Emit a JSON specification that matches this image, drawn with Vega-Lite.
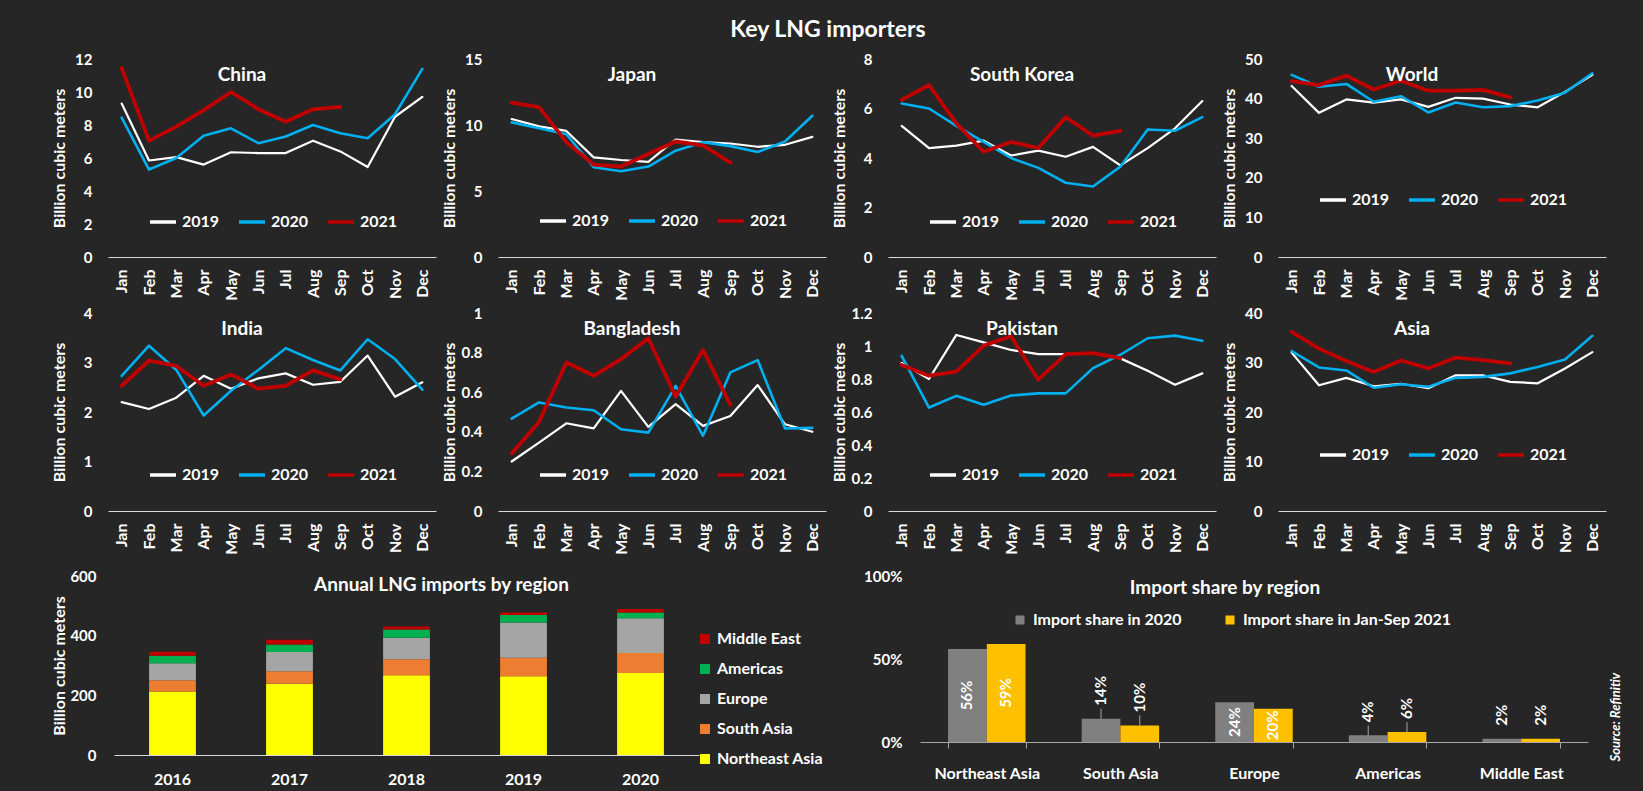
{
"$schema": "https://vega.github.io/schema/vega-lite/v6.json",
"background": "#262626",
"padding": {"left": 51, "top": 19, "right": 21, "bottom": 5},
"datasets": {
"lines": [
{"country":"China","year":"2019","month":"Jan","value":9.3},{"country":"China","year":"2019","month":"Feb","value":5.85},{"country":"China","year":"2019","month":"Mar","value":6.05},{"country":"China","year":"2019","month":"Apr","value":5.6},{"country":"China","year":"2019","month":"May","value":6.35},{"country":"China","year":"2019","month":"Jun","value":6.3},{"country":"China","year":"2019","month":"Jul","value":6.3},{"country":"China","year":"2019","month":"Aug","value":7.05},{"country":"China","year":"2019","month":"Sep","value":6.4},{"country":"China","year":"2019","month":"Oct","value":5.45},{"country":"China","year":"2019","month":"Nov","value":8.5},{"country":"China","year":"2019","month":"Dec","value":9.7},
{"country":"China","year":"2020","month":"Jan","value":8.45},{"country":"China","year":"2020","month":"Feb","value":5.3},{"country":"China","year":"2020","month":"Mar","value":6.0},{"country":"China","year":"2020","month":"Apr","value":7.35},{"country":"China","year":"2020","month":"May","value":7.8},{"country":"China","year":"2020","month":"Jun","value":6.9},{"country":"China","year":"2020","month":"Jul","value":7.3},{"country":"China","year":"2020","month":"Aug","value":8.0},{"country":"China","year":"2020","month":"Sep","value":7.5},{"country":"China","year":"2020","month":"Oct","value":7.2},{"country":"China","year":"2020","month":"Nov","value":8.65},{"country":"China","year":"2020","month":"Dec","value":11.4},
{"country":"China","year":"2021","month":"Jan","value":11.45},{"country":"China","year":"2021","month":"Feb","value":7.05},{"country":"China","year":"2021","month":"Mar","value":7.9},{"country":"China","year":"2021","month":"Apr","value":8.9},{"country":"China","year":"2021","month":"May","value":10.0},{"country":"China","year":"2021","month":"Jun","value":8.95},{"country":"China","year":"2021","month":"Jul","value":8.2},{"country":"China","year":"2021","month":"Aug","value":8.95},{"country":"China","year":"2021","month":"Sep","value":9.1},
{"country":"Japan","year":"2019","month":"Jan","value":10.45},{"country":"Japan","year":"2019","month":"Feb","value":9.9},{"country":"Japan","year":"2019","month":"Mar","value":9.55},{"country":"Japan","year":"2019","month":"Apr","value":7.55},{"country":"Japan","year":"2019","month":"May","value":7.35},{"country":"Japan","year":"2019","month":"Jun","value":7.2},{"country":"Japan","year":"2019","month":"Jul","value":8.9},{"country":"Japan","year":"2019","month":"Aug","value":8.7},{"country":"Japan","year":"2019","month":"Sep","value":8.6},{"country":"Japan","year":"2019","month":"Oct","value":8.35},{"country":"Japan","year":"2019","month":"Nov","value":8.5},{"country":"Japan","year":"2019","month":"Dec","value":9.1},
{"country":"Japan","year":"2020","month":"Jan","value":10.2},{"country":"Japan","year":"2020","month":"Feb","value":9.75},{"country":"Japan","year":"2020","month":"Mar","value":9.3},{"country":"Japan","year":"2020","month":"Apr","value":6.8},{"country":"Japan","year":"2020","month":"May","value":6.5},{"country":"Japan","year":"2020","month":"Jun","value":6.85},{"country":"Japan","year":"2020","month":"Jul","value":8.05},{"country":"Japan","year":"2020","month":"Aug","value":8.7},{"country":"Japan","year":"2020","month":"Sep","value":8.4},{"country":"Japan","year":"2020","month":"Oct","value":7.95},{"country":"Japan","year":"2020","month":"Nov","value":8.75},{"country":"Japan","year":"2020","month":"Dec","value":10.7},
{"country":"Japan","year":"2021","month":"Jan","value":11.7},{"country":"Japan","year":"2021","month":"Feb","value":11.35},{"country":"Japan","year":"2021","month":"Mar","value":8.7},{"country":"Japan","year":"2021","month":"Apr","value":7.0},{"country":"Japan","year":"2021","month":"May","value":6.85},{"country":"Japan","year":"2021","month":"Jun","value":7.8},{"country":"Japan","year":"2021","month":"Jul","value":8.75},{"country":"Japan","year":"2021","month":"Aug","value":8.45},{"country":"Japan","year":"2021","month":"Sep","value":7.15},
{"country":"South Korea","year":"2019","month":"Jan","value":5.3},{"country":"South Korea","year":"2019","month":"Feb","value":4.4},{"country":"South Korea","year":"2019","month":"Mar","value":4.5},{"country":"South Korea","year":"2019","month":"Apr","value":4.7},{"country":"South Korea","year":"2019","month":"May","value":4.1},{"country":"South Korea","year":"2019","month":"Jun","value":4.3},{"country":"South Korea","year":"2019","month":"Jul","value":4.05},{"country":"South Korea","year":"2019","month":"Aug","value":4.45},{"country":"South Korea","year":"2019","month":"Sep","value":3.7},{"country":"South Korea","year":"2019","month":"Oct","value":4.4},{"country":"South Korea","year":"2019","month":"Nov","value":5.2},{"country":"South Korea","year":"2019","month":"Dec","value":6.3},
{"country":"South Korea","year":"2020","month":"Jan","value":6.2},{"country":"South Korea","year":"2020","month":"Feb","value":6.0},{"country":"South Korea","year":"2020","month":"Mar","value":5.3},{"country":"South Korea","year":"2020","month":"Apr","value":4.65},{"country":"South Korea","year":"2020","month":"May","value":4.0},{"country":"South Korea","year":"2020","month":"Jun","value":3.6},{"country":"South Korea","year":"2020","month":"Jul","value":3.0},{"country":"South Korea","year":"2020","month":"Aug","value":2.85},{"country":"South Korea","year":"2020","month":"Sep","value":3.65},{"country":"South Korea","year":"2020","month":"Oct","value":5.15},{"country":"South Korea","year":"2020","month":"Nov","value":5.1},{"country":"South Korea","year":"2020","month":"Dec","value":5.65},
{"country":"South Korea","year":"2021","month":"Jan","value":6.35},{"country":"South Korea","year":"2021","month":"Feb","value":6.95},{"country":"South Korea","year":"2021","month":"Mar","value":5.4},{"country":"South Korea","year":"2021","month":"Apr","value":4.25},{"country":"South Korea","year":"2021","month":"May","value":4.65},{"country":"South Korea","year":"2021","month":"Jun","value":4.4},{"country":"South Korea","year":"2021","month":"Jul","value":5.65},{"country":"South Korea","year":"2021","month":"Aug","value":4.9},{"country":"South Korea","year":"2021","month":"Sep","value":5.1},
{"country":"World","year":"2019","month":"Jan","value":43.2},{"country":"World","year":"2019","month":"Feb","value":36.4},{"country":"World","year":"2019","month":"Mar","value":39.8},{"country":"World","year":"2019","month":"Apr","value":39.0},{"country":"World","year":"2019","month":"May","value":39.8},{"country":"World","year":"2019","month":"Jun","value":37.9},{"country":"World","year":"2019","month":"Jul","value":40.2},{"country":"World","year":"2019","month":"Aug","value":40.0},{"country":"World","year":"2019","month":"Sep","value":38.5},{"country":"World","year":"2019","month":"Oct","value":37.8},{"country":"World","year":"2019","month":"Nov","value":41.7},{"country":"World","year":"2019","month":"Dec","value":46.0},
{"country":"World","year":"2020","month":"Jan","value":46.0},{"country":"World","year":"2020","month":"Feb","value":43.0},{"country":"World","year":"2020","month":"Mar","value":43.7},{"country":"World","year":"2020","month":"Apr","value":39.2},{"country":"World","year":"2020","month":"May","value":40.6},{"country":"World","year":"2020","month":"Jun","value":36.5},{"country":"World","year":"2020","month":"Jul","value":39.0},{"country":"World","year":"2020","month":"Aug","value":37.8},{"country":"World","year":"2020","month":"Sep","value":38.1},{"country":"World","year":"2020","month":"Oct","value":39.5},{"country":"World","year":"2020","month":"Nov","value":41.5},{"country":"World","year":"2020","month":"Dec","value":46.4},
{"country":"World","year":"2021","month":"Jan","value":44.4},{"country":"World","year":"2021","month":"Feb","value":43.4},{"country":"World","year":"2021","month":"Mar","value":45.8},{"country":"World","year":"2021","month":"Apr","value":42.3},{"country":"World","year":"2021","month":"May","value":44.5},{"country":"World","year":"2021","month":"Jun","value":42.0},{"country":"World","year":"2021","month":"Jul","value":42.0},{"country":"World","year":"2021","month":"Aug","value":42.2},{"country":"World","year":"2021","month":"Sep","value":40.3},
{"country":"India","year":"2019","month":"Jan","value":2.2},{"country":"India","year":"2019","month":"Feb","value":2.06},{"country":"India","year":"2019","month":"Mar","value":2.29},{"country":"India","year":"2019","month":"Apr","value":2.73},{"country":"India","year":"2019","month":"May","value":2.47},{"country":"India","year":"2019","month":"Jun","value":2.68},{"country":"India","year":"2019","month":"Jul","value":2.78},{"country":"India","year":"2019","month":"Aug","value":2.55},{"country":"India","year":"2019","month":"Sep","value":2.61},{"country":"India","year":"2019","month":"Oct","value":3.14},{"country":"India","year":"2019","month":"Nov","value":2.31},{"country":"India","year":"2019","month":"Dec","value":2.6},
{"country":"India","year":"2020","month":"Jan","value":2.73},{"country":"India","year":"2020","month":"Feb","value":3.34},{"country":"India","year":"2020","month":"Mar","value":2.85},{"country":"India","year":"2020","month":"Apr","value":1.93},{"country":"India","year":"2020","month":"May","value":2.43},{"country":"India","year":"2020","month":"Jun","value":2.85},{"country":"India","year":"2020","month":"Jul","value":3.29},{"country":"India","year":"2020","month":"Aug","value":3.05},{"country":"India","year":"2020","month":"Sep","value":2.84},{"country":"India","year":"2020","month":"Oct","value":3.47},{"country":"India","year":"2020","month":"Nov","value":3.07},{"country":"India","year":"2020","month":"Dec","value":2.45},
{"country":"India","year":"2021","month":"Jan","value":2.53},{"country":"India","year":"2021","month":"Feb","value":3.04},{"country":"India","year":"2021","month":"Mar","value":2.93},{"country":"India","year":"2021","month":"Apr","value":2.53},{"country":"India","year":"2021","month":"May","value":2.76},{"country":"India","year":"2021","month":"Jun","value":2.47},{"country":"India","year":"2021","month":"Jul","value":2.53},{"country":"India","year":"2021","month":"Aug","value":2.84},{"country":"India","year":"2021","month":"Sep","value":2.66},
{"country":"Bangladesh","year":"2019","month":"Jan","value":0.25},{"country":"Bangladesh","year":"2019","month":"Feb","value":0.345},{"country":"Bangladesh","year":"2019","month":"Mar","value":0.443},{"country":"Bangladesh","year":"2019","month":"Apr","value":0.417},{"country":"Bangladesh","year":"2019","month":"May","value":0.607},{"country":"Bangladesh","year":"2019","month":"Jun","value":0.425},{"country":"Bangladesh","year":"2019","month":"Jul","value":0.54},{"country":"Bangladesh","year":"2019","month":"Aug","value":0.43},{"country":"Bangladesh","year":"2019","month":"Sep","value":0.48},{"country":"Bangladesh","year":"2019","month":"Oct","value":0.636},{"country":"Bangladesh","year":"2019","month":"Nov","value":0.438},{"country":"Bangladesh","year":"2019","month":"Dec","value":0.4},
{"country":"Bangladesh","year":"2020","month":"Jan","value":0.467},{"country":"Bangladesh","year":"2020","month":"Feb","value":0.548},{"country":"Bangladesh","year":"2020","month":"Mar","value":0.523},{"country":"Bangladesh","year":"2020","month":"Apr","value":0.509},{"country":"Bangladesh","year":"2020","month":"May","value":0.413},{"country":"Bangladesh","year":"2020","month":"Jun","value":0.396},{"country":"Bangladesh","year":"2020","month":"Jul","value":0.632},{"country":"Bangladesh","year":"2020","month":"Aug","value":0.38},{"country":"Bangladesh","year":"2020","month":"Sep","value":0.7},{"country":"Bangladesh","year":"2020","month":"Oct","value":0.762},{"country":"Bangladesh","year":"2020","month":"Nov","value":0.417},{"country":"Bangladesh","year":"2020","month":"Dec","value":0.42},
{"country":"Bangladesh","year":"2021","month":"Jan","value":0.29},{"country":"Bangladesh","year":"2021","month":"Feb","value":0.45},{"country":"Bangladesh","year":"2021","month":"Mar","value":0.75},{"country":"Bangladesh","year":"2021","month":"Apr","value":0.683},{"country":"Bangladesh","year":"2021","month":"May","value":0.767},{"country":"Bangladesh","year":"2021","month":"Jun","value":0.872},{"country":"Bangladesh","year":"2021","month":"Jul","value":0.578},{"country":"Bangladesh","year":"2021","month":"Aug","value":0.813},{"country":"Bangladesh","year":"2021","month":"Sep","value":0.536},
{"country":"Pakistan","year":"2019","month":"Jan","value":0.897},{"country":"Pakistan","year":"2019","month":"Feb","value":0.8},{"country":"Pakistan","year":"2019","month":"Mar","value":1.067},{"country":"Pakistan","year":"2019","month":"Apr","value":1.022},{"country":"Pakistan","year":"2019","month":"May","value":0.976},{"country":"Pakistan","year":"2019","month":"Jun","value":0.951},{"country":"Pakistan","year":"2019","month":"Jul","value":0.951},{"country":"Pakistan","year":"2019","month":"Aug","value":0.955},{"country":"Pakistan","year":"2019","month":"Sep","value":0.925},{"country":"Pakistan","year":"2019","month":"Oct","value":0.85},{"country":"Pakistan","year":"2019","month":"Nov","value":0.765},{"country":"Pakistan","year":"2019","month":"Dec","value":0.834},
{"country":"Pakistan","year":"2020","month":"Jan","value":0.94},{"country":"Pakistan","year":"2020","month":"Feb","value":0.627},{"country":"Pakistan","year":"2020","month":"Mar","value":0.698},{"country":"Pakistan","year":"2020","month":"Apr","value":0.644},{"country":"Pakistan","year":"2020","month":"May","value":0.7},{"country":"Pakistan","year":"2020","month":"Jun","value":0.713},{"country":"Pakistan","year":"2020","month":"Jul","value":0.713},{"country":"Pakistan","year":"2020","month":"Aug","value":0.866},{"country":"Pakistan","year":"2020","month":"Sep","value":0.947},{"country":"Pakistan","year":"2020","month":"Oct","value":1.047},{"country":"Pakistan","year":"2020","month":"Nov","value":1.063},{"country":"Pakistan","year":"2020","month":"Dec","value":1.032},
{"country":"Pakistan","year":"2021","month":"Jan","value":0.885},{"country":"Pakistan","year":"2021","month":"Feb","value":0.82},{"country":"Pakistan","year":"2021","month":"Mar","value":0.844},{"country":"Pakistan","year":"2021","month":"Apr","value":1.002},{"country":"Pakistan","year":"2021","month":"May","value":1.059},{"country":"Pakistan","year":"2021","month":"Jun","value":0.796},{"country":"Pakistan","year":"2021","month":"Jul","value":0.951},{"country":"Pakistan","year":"2021","month":"Aug","value":0.957},{"country":"Pakistan","year":"2021","month":"Sep","value":0.927},
{"country":"Asia","year":"2019","month":"Jan","value":32.0},{"country":"Asia","year":"2019","month":"Feb","value":25.4},{"country":"Asia","year":"2019","month":"Mar","value":26.9},{"country":"Asia","year":"2019","month":"Apr","value":25.2},{"country":"Asia","year":"2019","month":"May","value":25.7},{"country":"Asia","year":"2019","month":"Jun","value":24.8},{"country":"Asia","year":"2019","month":"Jul","value":27.4},{"country":"Asia","year":"2019","month":"Aug","value":27.4},{"country":"Asia","year":"2019","month":"Sep","value":26.1},{"country":"Asia","year":"2019","month":"Oct","value":25.8},{"country":"Asia","year":"2019","month":"Nov","value":28.8},{"country":"Asia","year":"2019","month":"Dec","value":32.1},
{"country":"Asia","year":"2020","month":"Jan","value":32.3},{"country":"Asia","year":"2020","month":"Feb","value":29.0},{"country":"Asia","year":"2020","month":"Mar","value":28.4},{"country":"Asia","year":"2020","month":"Apr","value":24.9},{"country":"Asia","year":"2020","month":"May","value":25.6},{"country":"Asia","year":"2020","month":"Jun","value":25.1},{"country":"Asia","year":"2020","month":"Jul","value":26.9},{"country":"Asia","year":"2020","month":"Aug","value":27.1},{"country":"Asia","year":"2020","month":"Sep","value":27.8},{"country":"Asia","year":"2020","month":"Oct","value":29.1},{"country":"Asia","year":"2020","month":"Nov","value":30.6},{"country":"Asia","year":"2020","month":"Dec","value":35.4},
{"country":"Asia","year":"2021","month":"Jan","value":36.2},{"country":"Asia","year":"2021","month":"Feb","value":32.8},{"country":"Asia","year":"2021","month":"Mar","value":30.3},{"country":"Asia","year":"2021","month":"Apr","value":28.1},{"country":"Asia","year":"2021","month":"May","value":30.4},{"country":"Asia","year":"2021","month":"Jun","value":28.8},{"country":"Asia","year":"2021","month":"Jul","value":31.0},{"country":"Asia","year":"2021","month":"Aug","value":30.5},{"country":"Asia","year":"2021","month":"Sep","value":29.8}
],
"annual": [
{"year":"2016","region":"Northeast Asia","value":213},{"year":"2016","region":"South Asia","value":37.5},{"year":"2016","region":"Europe","value":57},{"year":"2016","region":"Americas","value":25},{"year":"2016","region":"Middle East","value":13.5},
{"year":"2017","region":"Northeast Asia","value":239},{"year":"2017","region":"South Asia","value":42},{"year":"2017","region":"Europe","value":64},{"year":"2017","region":"Americas","value":25},{"year":"2017","region":"Middle East","value":16},
{"year":"2018","region":"Northeast Asia","value":267.5},{"year":"2018","region":"South Asia","value":53.5},{"year":"2018","region":"Europe","value":72},{"year":"2018","region":"Americas","value":28},{"year":"2018","region":"Middle East","value":9.5},
{"year":"2019","region":"Northeast Asia","value":264},{"year":"2019","region":"South Asia","value":62},{"year":"2019","region":"Europe","value":118},{"year":"2019","region":"Americas","value":25},{"year":"2019","region":"Middle East","value":9},
{"year":"2020","region":"Northeast Asia","value":274.5},{"year":"2020","region":"South Asia","value":67},{"year":"2020","region":"Europe","value":117},{"year":"2020","region":"Americas","value":19.5},{"year":"2020","region":"Middle East","value":11.5}
],
"share": [
{"region":"Northeast Asia","series":"Import share in 2020","value":0.56},{"region":"Northeast Asia","series":"Import share in Jan-Sep 2021","value":0.59},
{"region":"South Asia","series":"Import share in 2020","value":0.14},{"region":"South Asia","series":"Import share in Jan-Sep 2021","value":0.10},
{"region":"Europe","series":"Import share in 2020","value":0.24},{"region":"Europe","series":"Import share in Jan-Sep 2021","value":0.20},
{"region":"Americas","series":"Import share in 2020","value":0.04},{"region":"Americas","series":"Import share in Jan-Sep 2021","value":0.06},
{"region":"Middle East","series":"Import share in 2020","value":0.02},{"region":"Middle East","series":"Import share in Jan-Sep 2021","value":0.02}
]
},
"spacing": 5,
"vconcat": [
{"width": 1482, "height": 1, "data": {"values": []}, "mark": {"type": "point", "opacity": 0},
 "title": {"text": "Key LNG importers", "fontSize": 23, "offset": 4, "dx": 0, "anchor": "middle", "frame": "group"}},
{
"hconcat": [
{"width": 1, "height": 1, "data": {"values": []}, "mark": {"type": "point", "opacity": 0}},
{"width":328,"height":198,"data":{"name":"lines"},"transform":[{"filter":"datum.country === 'China'"}],"title":{"text":"China"},"mark":{"type":"line","strokeJoin":"round","strokeCap":"round"},
"encoding":{"x":{"field":"month","type":"ordinal","sort":["Jan","Feb","Mar","Apr","May","Jun","Jul","Aug","Sep","Oct","Nov","Dec"],"scale":{"type":"point","padding":0.5},"axis":{"title":null}},
"y":{"field":"value","type":"quantitative","scale":{"domain":[0,12]},"axis":{"values":[0,2,4,6,8,10,12],"format":"~r","title":"Billion cubic meters"}},
"color":{"field":"year","type":"nominal","scale":{"domain":["2019","2020","2021"],"range":["#FFFFFF","#00B0F0","#C00000"]},"legend":{"title":null,"legendX":40,"legendY":148}},
"strokeWidth":{"condition":[{"test":"datum.year === '2021'","value":3.8},{"test":"datum.year === '2020'","value":2.6}],"value":2.2}}},
{"width": 22, "height": 1, "data": {"values": []}, "mark": {"type": "point", "opacity": 0}},
{"width":328,"height":198,"data":{"name":"lines"},"transform":[{"filter":"datum.country === 'Japan'"}],"title":{"text":"Japan"},"mark":{"type":"line","strokeJoin":"round","strokeCap":"round"},
"encoding":{"x":{"field":"month","type":"ordinal","sort":["Jan","Feb","Mar","Apr","May","Jun","Jul","Aug","Sep","Oct","Nov","Dec"],"scale":{"type":"point","padding":0.5},"axis":{"title":null}},
"y":{"field":"value","type":"quantitative","scale":{"domain":[0,15]},"axis":{"values":[0,5,10,15],"format":"~r","title":"Billion cubic meters"}},
"color":{"field":"year","type":"nominal","scale":{"domain":["2019","2020","2021"],"range":["#FFFFFF","#00B0F0","#C00000"]},"legend":{"title":null,"legendX":40,"legendY":147}},
"strokeWidth":{"condition":[{"test":"datum.year === '2021'","value":3.8},{"test":"datum.year === '2020'","value":2.6}],"value":2.2}}},
{"width": 22, "height": 1, "data": {"values": []}, "mark": {"type": "point", "opacity": 0}},
{"width":328,"height":198,"data":{"name":"lines"},"transform":[{"filter":"datum.country === 'South Korea'"}],"title":{"text":"South Korea"},"mark":{"type":"line","strokeJoin":"round","strokeCap":"round"},
"encoding":{"x":{"field":"month","type":"ordinal","sort":["Jan","Feb","Mar","Apr","May","Jun","Jul","Aug","Sep","Oct","Nov","Dec"],"scale":{"type":"point","padding":0.5},"axis":{"title":null}},
"y":{"field":"value","type":"quantitative","scale":{"domain":[0,8]},"axis":{"values":[0,2,4,6,8],"format":"~r","title":"Billion cubic meters"}},
"color":{"field":"year","type":"nominal","scale":{"domain":["2019","2020","2021"],"range":["#FFFFFF","#00B0F0","#C00000"]},"legend":{"title":null,"legendX":40,"legendY":148}},
"strokeWidth":{"condition":[{"test":"datum.year === '2021'","value":3.8},{"test":"datum.year === '2020'","value":2.6}],"value":2.2}}},
{"width": 22, "height": 1, "data": {"values": []}, "mark": {"type": "point", "opacity": 0}},
{"width":328,"height":198,"data":{"name":"lines"},"transform":[{"filter":"datum.country === 'World'"}],"title":{"text":"World"},"mark":{"type":"line","strokeJoin":"round","strokeCap":"round"},
"encoding":{"x":{"field":"month","type":"ordinal","sort":["Jan","Feb","Mar","Apr","May","Jun","Jul","Aug","Sep","Oct","Nov","Dec"],"scale":{"type":"point","padding":0.5},"axis":{"title":null}},
"y":{"field":"value","type":"quantitative","scale":{"domain":[0,50]},"axis":{"values":[0,10,20,30,40,50],"format":"~r","title":"Billion cubic meters"}},
"color":{"field":"year","type":"nominal","scale":{"domain":["2019","2020","2021"],"range":["#FFFFFF","#00B0F0","#C00000"]},"legend":{"title":null,"legendX":40,"legendY":126}},
"strokeWidth":{"condition":[{"test":"datum.year === '2021'","value":3.8},{"test":"datum.year === '2020'","value":2.6}],"value":2.2}}}
],
"spacing": 20, "bounds": "flush",
"resolve": {"scale": {"color": "independent"}, "legend": {"color": "independent"}}
},
{
"hconcat": [
{"width": 1, "height": 251, "data": {"values": []}, "mark": {"type": "point", "opacity": 0}},
{"width":328,"height":198,"data":{"name":"lines"},"transform":[{"filter":"datum.country === 'India'"}],"title":{"text":"India"},"mark":{"type":"line","strokeJoin":"round","strokeCap":"round"},
"encoding":{"x":{"field":"month","type":"ordinal","sort":["Jan","Feb","Mar","Apr","May","Jun","Jul","Aug","Sep","Oct","Nov","Dec"],"scale":{"type":"point","padding":0.5},"axis":{"title":null}},
"y":{"field":"value","type":"quantitative","scale":{"domain":[0,4]},"axis":{"values":[0,1,2,3,4],"format":"~r","title":"Billion cubic meters"}},
"color":{"field":"year","type":"nominal","scale":{"domain":["2019","2020","2021"],"range":["#FFFFFF","#00B0F0","#C00000"]},"legend":{"title":null,"legendX":40,"legendY":147}},
"strokeWidth":{"condition":[{"test":"datum.year === '2021'","value":3.8},{"test":"datum.year === '2020'","value":2.6}],"value":2.2}}},
{"width": 22, "height": 1, "data": {"values": []}, "mark": {"type": "point", "opacity": 0}},
{"width":328,"height":198,"data":{"name":"lines"},"transform":[{"filter":"datum.country === 'Bangladesh'"}],"title":{"text":"Bangladesh"},"mark":{"type":"line","strokeJoin":"round","strokeCap":"round"},
"encoding":{"x":{"field":"month","type":"ordinal","sort":["Jan","Feb","Mar","Apr","May","Jun","Jul","Aug","Sep","Oct","Nov","Dec"],"scale":{"type":"point","padding":0.5},"axis":{"title":null}},
"y":{"field":"value","type":"quantitative","scale":{"domain":[0,1]},"axis":{"values":[0,0.2,0.4,0.6,0.8,1],"format":"~r","title":"Billion cubic meters"}},
"color":{"field":"year","type":"nominal","scale":{"domain":["2019","2020","2021"],"range":["#FFFFFF","#00B0F0","#C00000"]},"legend":{"title":null,"legendX":40,"legendY":147}},
"strokeWidth":{"condition":[{"test":"datum.year === '2021'","value":3.8},{"test":"datum.year === '2020'","value":2.6}],"value":2.2}}},
{"width": 22, "height": 1, "data": {"values": []}, "mark": {"type": "point", "opacity": 0}},
{"width":328,"height":198,"data":{"name":"lines"},"transform":[{"filter":"datum.country === 'Pakistan'"}],"title":{"text":"Pakistan"},"mark":{"type":"line","strokeJoin":"round","strokeCap":"round"},
"encoding":{"x":{"field":"month","type":"ordinal","sort":["Jan","Feb","Mar","Apr","May","Jun","Jul","Aug","Sep","Oct","Nov","Dec"],"scale":{"type":"point","padding":0.5},"axis":{"title":null}},
"y":{"field":"value","type":"quantitative","scale":{"domain":[0,1.2]},"axis":{"values":[0,0.2,0.4,0.6,0.8,1,1.2],"format":"~r","title":"Billion cubic meters"}},
"color":{"field":"year","type":"nominal","scale":{"domain":["2019","2020","2021"],"range":["#FFFFFF","#00B0F0","#C00000"]},"legend":{"title":null,"legendX":40,"legendY":147}},
"strokeWidth":{"condition":[{"test":"datum.year === '2021'","value":3.8},{"test":"datum.year === '2020'","value":2.6}],"value":2.2}}},
{"width": 22, "height": 1, "data": {"values": []}, "mark": {"type": "point", "opacity": 0}},
{"width":328,"height":198,"data":{"name":"lines"},"transform":[{"filter":"datum.country === 'Asia'"}],"title":{"text":"Asia"},"mark":{"type":"line","strokeJoin":"round","strokeCap":"round"},
"encoding":{"x":{"field":"month","type":"ordinal","sort":["Jan","Feb","Mar","Apr","May","Jun","Jul","Aug","Sep","Oct","Nov","Dec"],"scale":{"type":"point","padding":0.5},"axis":{"title":null}},
"y":{"field":"value","type":"quantitative","scale":{"domain":[0,40]},"axis":{"values":[0,10,20,30,40],"format":"~r","title":"Billion cubic meters"}},
"color":{"field":"year","type":"nominal","scale":{"domain":["2019","2020","2021"],"range":["#FFFFFF","#00B0F0","#C00000"]},"legend":{"title":null,"legendX":40,"legendY":127}},
"strokeWidth":{"condition":[{"test":"datum.year === '2021'","value":3.8},{"test":"datum.year === '2020'","value":2.6}],"value":2.2}}}
],
"spacing": 20, "bounds": "flush",
"resolve": {"scale": {"color": "independent"}, "legend": {"color": "independent"}}
},
{
"hconcat": [
{"width": 7, "height": 1, "data": {"values": []}, "mark": {"type": "point", "opacity": 0}},
{
"width": 585, "height": 179,
"data": {"name": "annual"},
"transform": [{"calculate": "indexof(['Northeast Asia','South Asia','Europe','Americas','Middle East'], datum.region)", "as": "stack_order"}],
"title": {"text": "Annual LNG imports by region", "offset": -26, "dx": 35},
"mark": {"type": "bar"},
"encoding": {
"x": {"field": "year", "type": "ordinal", "scale": {"paddingInner": 0.6, "paddingOuter": 0.3}, "axis": {"title": null, "labelAngle": 0, "labelFontSize": 16, "labelPadding": 16, "labelAlign": "center", "labelBaseline": "top"}},
"y": {"field": "value", "type": "quantitative", "stack": "zero", "scale": {"domain": [0, 600]}, "axis": {"values": [0, 200, 400, 600], "title": "Billion cubic meters", "labelFontSize": 15, "labelPadding": 18, "minExtent": 44, "maxExtent": 44, "titlePadding": 3, "titleFontSize": 16}},
"color": {"field": "region", "type": "nominal", "scale": {"domain": ["Middle East", "Americas", "Europe", "South Asia", "Northeast Asia"], "range": ["#C00000", "#00B050", "#A5A5A5", "#ED7D31", "#FFFF00"]},
"legend": {"title": null, "orient": "none", "legendX": 583, "legendY": 55, "direction": "vertical", "symbolType": "square", "symbolSize": 100, "symbolStrokeWidth": 0, "labelFontSize": 16, "rowPadding": 14, "labelOffset": 4}},
"order": {"field": "stack_order", "type": "quantitative", "sort": "ascending"}
}
},
{"width": 181, "height": 1, "data": {"values": []}, "mark": {"type": "point", "opacity": 0}},
{
"width": 668, "height": 166,
"data": {"name": "share"},
"title": {"text": "Import share by region", "offset": -29, "dx": -29},
"encoding": {
"x": {"field": "region", "type": "nominal", "sort": ["Northeast Asia", "South Asia", "Europe", "Americas", "Middle East"], "scale": {"paddingInner": 0.42, "paddingOuter": 0.21},
"axis": {"title": null, "labelAngle": 0, "labelAlign": "center", "labelBaseline": "top", "labelFontSize": 16, "labelPadding": 17, "ticks": true, "tickBand": "extent", "tickColor": "#A6A6A6", "tickSize": 6, "domainColor": "#A6A6A6"}},
"xOffset": {"field": "series", "type": "nominal", "sort": ["Import share in 2020", "Import share in Jan-Sep 2021"]}
},
"layer": [
{"mark": {"type": "bar"},
"encoding": {
"y": {"field": "value", "type": "quantitative", "scale": {"domain": [0, 1]}, "axis": {"values": [0, 0.5, 1], "format": ".0%", "title": null, "labelFontSize": 15, "labelPadding": 18, "minExtent": 58, "maxExtent": 58}},
"color": {"field": "series", "type": "nominal", "scale": {"domain": ["Import share in 2020", "Import share in Jan-Sep 2021"], "range": ["#808080", "#FFC000"]},
"legend": {"title": null, "orient": "none", "legendX": 92, "legendY": 36, "direction": "horizontal", "symbolType": "square", "symbolSize": 81, "symbolStrokeWidth": 0, "labelFontSize": 16, "labelLimit": 300, "columnPadding": 40, "labelOffset": 5}}
}},
{"transform": [{"filter": "datum.value >= 0.15"}],
"mark": {"type": "text", "angle": 270, "align": "center", "baseline": "middle", "font": "Lato", "fontWeight": "bold", "fontSize": 15, "color": "#FFFFFF"},
"encoding": {
"y": {"field": "value", "type": "quantitative", "stack": "zero", "bandPosition": 0.5, "scale": {"domain": [0, 1]}, "axis": null},
"text": {"field": "value", "type": "quantitative", "format": ".0%"}
}},
{"transform": [{"filter": "datum.value < 0.15"}],
"mark": {"type": "text", "angle": 270, "align": "left", "baseline": "middle", "dx": 13, "font": "Lato", "fontWeight": "bold", "fontSize": 15, "color": "#FFFFFF"},
"encoding": {
"y": {"field": "value", "type": "quantitative", "scale": {"domain": [0, 1]}, "axis": null},
"text": {"field": "value", "type": "quantitative", "format": ".0%"}
}},
{"transform": [{"filter": "datum.value < 0.15 && datum.value > 0.03"}],
"mark": {"type": "rule", "color": "#A6A6A6", "strokeWidth": 1, "y2Offset": -10},
"encoding": {
"y": {"field": "value", "type": "quantitative", "scale": {"domain": [0, 1]},
"axis": {"orient": "right", "title": "Source: Refinitiv", "labels": false, "ticks": false, "domain": false, "grid": false, "minExtent": 0, "maxExtent": 0, "titleAngle": 270, "titleFont": "Lato", "titleFontStyle": "italic", "titleFontWeight": "bold", "titleFontSize": 13, "titleColor": "#FFFFFF", "titleAlign": "left", "titleBaseline": "middle", "titleX": 27, "titleY": 185}},
"y2": {"field": "value"}
}}
],
"resolve": {"scale": {"y": "independent"}}
}
],
"spacing": 20, "bounds": "flush",
"resolve": {"scale": {"color": "independent"}, "legend": {"color": "independent"}}
}
],
"resolve": {"scale": {"color": "independent"}, "legend": {"color": "independent"}},
"config": {
"view": {"stroke": null},
"font": "Lato",
"title": {"color": "#FFFFFF", "font": "Lato", "fontWeight": "bold", "fontSize": 19, "offset": -33, "dx": -30, "anchor": "middle"},
"axis": {"labelFont": "Lato", "labelFontWeight": "bold", "labelColor": "#FFFFFF", "titleFont": "Lato", "titleFontWeight": "bold", "titleColor": "#FFFFFF", "grid": false, "ticks": false, "domain": false},
"axisX": {"domain": true, "domainColor": "#D9D9D9", "domainWidth": 1, "labelAngle": 270, "labelFontSize": 16, "labelPadding": 12},
"axisY": {"labelFontSize": 15, "labelPadding": 16, "titleFontSize": 16, "minExtent": 36, "maxExtent": 36, "titlePadding": 5},
"legend": {"orient": "none", "direction": "horizontal", "symbolType": "stroke", "symbolSize": 676, "symbolStrokeWidth": 3.5, "labelFont": "Lato", "labelFontWeight": "bold", "labelFontSize": 16, "labelColor": "#FFFFFF", "columnPadding": 12, "labelOffset": 4, "padding": 0}
}
}
